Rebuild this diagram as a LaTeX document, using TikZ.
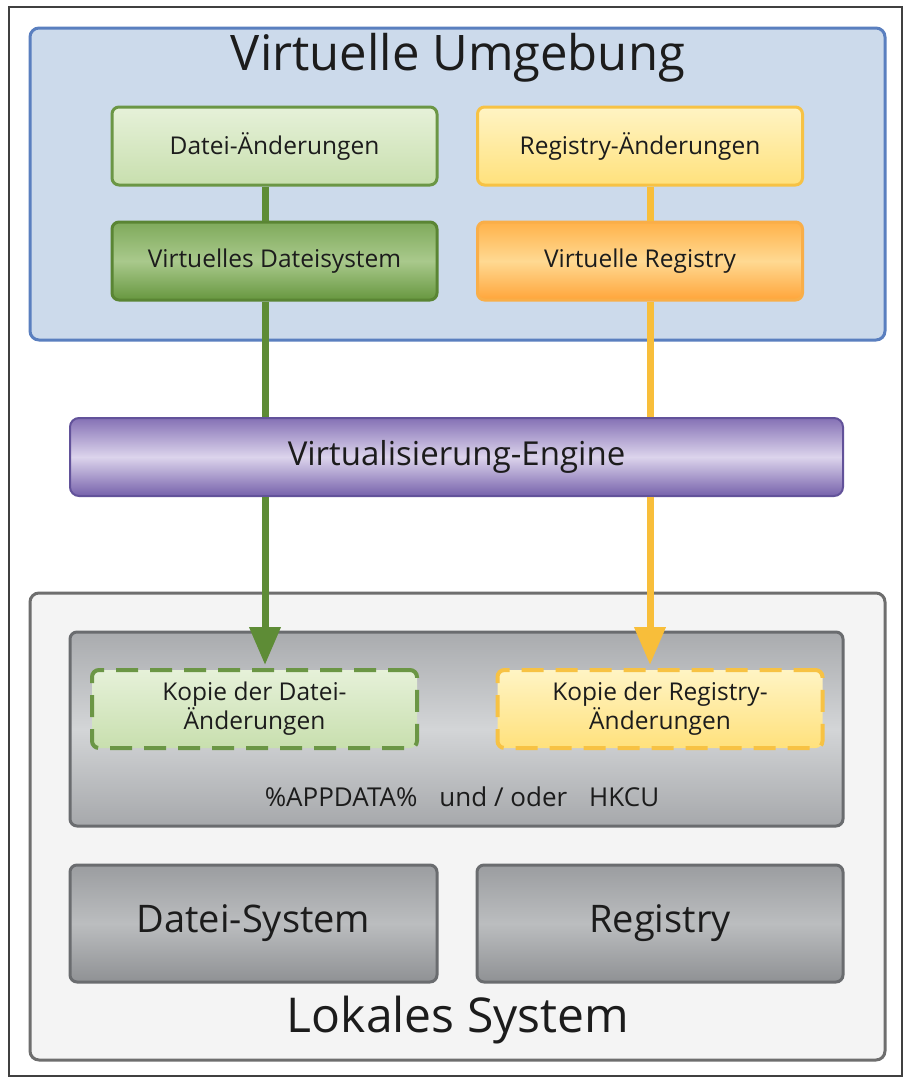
\documentclass[tikz,border=0pt]{standalone}
\usepackage{fontspec}
\setmainfont{Open Sans}
\usetikzlibrary{arrows.meta}
\definecolor{txt}{HTML}{1C1C1C}
\definecolor{bluefill}{HTML}{CCDAEB}
\definecolor{blueline}{HTML}{5A7FBF}
\definecolor{gline}{HTML}{5E8C36}
\definecolor{yline}{HTML}{F8BE3A}
\definecolor{lgtop}{HTML}{E6F1D9}
\definecolor{lgbot}{HTML}{C8DFAE}
\definecolor{lgborder}{HTML}{6B9645}
\definecolor{dgtop}{HTML}{7FAA5B}
\definecolor{dgmid}{HTML}{A9C98C}
\definecolor{dgbot}{HTML}{67973F}
\definecolor{dgborder}{HTML}{5A8534}
\definecolor{lytop}{HTML}{FFF4C4}
\definecolor{lybot}{HTML}{FFE17C}
\definecolor{lyborder}{HTML}{F7C244}
\definecolor{ortop}{HTML}{FFB24A}
\definecolor{ormid}{HTML}{FFD992}
\definecolor{orbot}{HTML}{FFA53A}
\definecolor{orborder}{HTML}{F9AE48}
\definecolor{putop}{HTML}{8571B5}
\definecolor{pumid}{HTML}{DCD4EC}
\definecolor{pubot}{HTML}{7661AB}
\definecolor{puborder}{HTML}{62529A}
\definecolor{locfill}{HTML}{F4F4F4}
\definecolor{locborder}{HTML}{6E6E6E}
\definecolor{igtop}{HTML}{A9ABAE}
\definecolor{igmid}{HTML}{D3D5D7}
\definecolor{igbot}{HTML}{A6A8AB}
\definecolor{gbtop}{HTML}{9B9DA0}
\definecolor{gbmid}{HTML}{BBBDBF}
\definecolor{gbbot}{HTML}{8F9194}
\definecolor{gborder}{HTML}{6A6C6F}
\begin{document}
\begin{tikzpicture}[x=1pt,y=-1pt,
  base/.style={rounded corners=7pt, inner sep=0pt, align=center, text=txt},
  smallbox/.style={base, line width=3pt, minimum width=325pt, minimum height=78pt,
     font=\fontsize{24.5}{29}\selectfont},
  lgreen/.style={smallbox, draw=lgborder, top color=lgtop, bottom color=lgbot},
  dgreen/.style={smallbox, draw=dgborder, top color=dgtop, bottom color=dgbot, middle color=dgmid},
  lyellow/.style={smallbox, draw=lyborder, top color=lytop, bottom color=lybot},
  orange/.style={smallbox, draw=orborder, top color=ortop, bottom color=orbot, middle color=ormid},
  dashgreen/.style={smallbox, draw=lgborder, line width=4pt, dash pattern=on 22pt off 12pt,
     top color=lgtop, bottom color=lgbot},
  dashyellow/.style={smallbox, draw=lyborder, line width=4pt, dash pattern=on 22pt off 12pt,
     top color=lytop, bottom color=lybot},
  graybox/.style={base, draw=gborder, line width=3pt, top color=gbtop, bottom color=gbbot, middle color=gbmid,
     minimum height=117pt, font=\fontsize{38}{44}\selectfont},
  gconn/.style={draw=gline, line width=7pt},
  yconn/.style={draw=yline, line width=7pt}
]
\useasboundingbox (0,0) rectangle (906,1079);
\fill[white] (0,0) rectangle (906,1079);
\draw[line width=1.2pt, draw=black!75] (9,7) rectangle (902,1076);

% virtual environment
\node[base, draw=blueline, line width=3pt, fill=bluefill, rounded corners=9pt,
      minimum width=855pt, minimum height=312pt] (venv) at (457.5,184) {};
\node[text=txt, font=\fontsize{49}{56}\selectfont] (vtitle) at (458,58) {Virtuelle Umgebung};

\node[lgreen] (df) at (274.5,146) {Datei-Änderungen};
\node[lyellow] (rf) at (640,146) {Registry-Änderungen};
\node[dgreen] (vd) at (274.5,261) {Virtuelles Dateisystem};
\node[orange] (vr) at (640,261) {Virtuelle Registry};

% local system
\node[base, draw=locborder, line width=3pt, fill=locfill, rounded corners=9pt,
      minimum width=855pt, minimum height=467pt] (loc) at (457.5,826.5) {};
\node[base, draw=gborder, line width=3pt, top color=igtop, bottom color=igbot, middle color=igmid,
      minimum width=773pt, minimum height=194pt] (inner) at (456.5,729) {};
\node[dashgreen] (kd) at (254.5,709) {Kopie der Datei-\\Änderungen};
\node[dashyellow] (kr) at (660,709) {Kopie der Registry-\\Änderungen};
\node[text=txt, font=\fontsize{26}{31}\selectfont] (app) at (462,797)
  {\%APPDATA\%\hspace{22pt}und / oder\hspace{22pt}HKCU};
\node[graybox, minimum width=367pt] (ds) at (253.5,923.5) {Datei-System};
\node[graybox, minimum width=366pt] (reg) at (660,923.5) {Registry};
\node[text=txt, font=\fontsize{48}{56}\selectfont] (ltitle) at (458,1020) {Lokales System};

% engine
\node[base, draw=puborder, line width=2pt, top color=putop, bottom color=pubot, middle color=pumid,
      rounded corners=9pt, minimum width=773pt, minimum height=78pt,
      font=\fontsize{33}{38}\selectfont] (eng) at (456.5,457) {Virtualisierung-Engine};

% connectors
\coordinate (gx) at (265,0);
\coordinate (yx) at (650,0);
\draw[gconn] (df.south -| gx) -- (vd.north -| gx);
\draw[yconn] (rf.south -| yx) -- (vr.north -| yx);
\draw[gconn] (vd.south -| gx) -- (eng.north -| gx);
\draw[yconn] (vr.south -| yx) -- (eng.north -| yx);
\draw[gconn, -{Triangle[width=30pt,length=38pt,fill=gline]}] (eng.south -| gx) -- ([yshift=3pt]kd.north -| gx);
\draw[yconn, -{Triangle[width=30pt,length=38pt,fill=yline]}] (eng.south -| yx) -- ([yshift=3pt]kr.north -| yx);
\end{tikzpicture}
\end{document}
